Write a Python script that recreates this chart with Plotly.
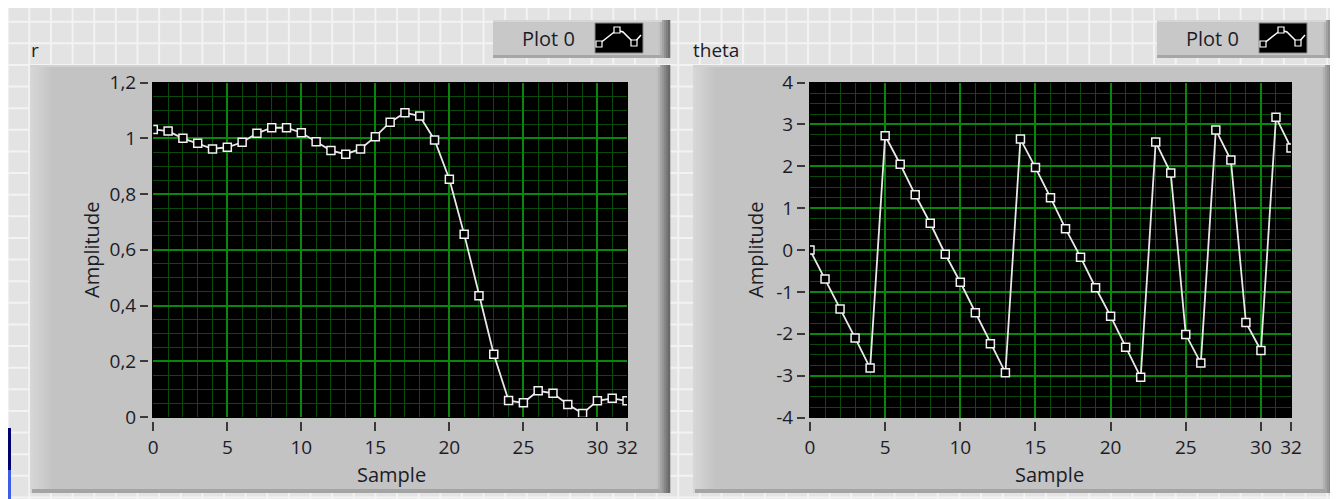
import plotly.graph_objects as go

W, H = 1338, 499
OFF = 8  # page body margin: the figure starts 8 px right / down of the window corner

# ---------------- data ----------------
sample = list(range(33))
r_values = [1.032, 1.026, 1.000, 0.982, 0.962, 0.968, 0.986, 1.018, 1.038, 1.038,
            1.020, 0.988, 0.956, 0.943, 0.962, 1.006, 1.058, 1.092, 1.080, 0.994,
            0.853, 0.656, 0.435, 0.225, 0.059, 0.051, 0.094, 0.085, 0.045, 0.013,
            0.058, 0.067, 0.058]
theta_values = [0.00, -0.69, -1.41, -2.10, -2.82, 2.73, 2.05, 1.32, 0.64, -0.10,
                -0.77, -1.50, -2.24, -2.93, 2.65, 1.97, 1.25, 0.51, -0.17, -0.90,
                -1.58, -2.32, -3.04, 2.58, 1.84, -2.02, -2.70, 2.87, 2.15, -1.73,
                -2.40, 3.17, 2.44]

x_tickvals = [0, 5, 10, 15, 20, 25, 30, 32]
x_ticktext = ["0", "5", "10", "15", "20", "25", "30", "32"]
r_tickvals = [0, 0.2, 0.4, 0.6, 0.8, 1.0, 1.2]
r_ticktext = ["0", "0,2", "0,4", "0,6", "0,8", "1", "1,2"]
theta_tickvals = [-4, -3, -2, -1, 0, 1, 2, 3, 4]
theta_ticktext = ["-4", "-3", "-2", "-1", "0", "1", "2", "3", "4"]

graph_titles = ["r", "theta"]
legend_name = "Plot 0"
x_title = "Sample"
y_title = "Amplitude"

# ---------------- helpers (window pixel -> paper fraction) ----------------
def X(px):
    return (px - OFF) / W

def Y(py):
    return 1 - (py - OFF) / H

shapes = []

def rect(x0, y0, x1, y1, fill, line_color=None, line_width=0, layer="below"):
    shapes.append(dict(type="rect", xref="paper", yref="paper",
                       x0=X(x0), x1=X(x1), y0=Y(y1), y1=Y(y0),
                       fillcolor=fill, layer=layer,
                       line=dict(color=line_color or fill, width=line_width)))

def hline(py, x0, x1, color, width):
    shapes.append(dict(type="line", xref="paper", yref="paper",
                       x0=X(x0), x1=X(x1), y0=Y(py), y1=Y(py),
                       line=dict(color=color, width=width), layer="below"))

def vline(px, y0, y1, color, width):
    shapes.append(dict(type="line", xref="paper", yref="paper",
                       x0=X(px), x1=X(px), y0=Y(y0), y1=Y(y1),
                       line=dict(color=color, width=width), layer="below"))

def mix(c1, c2, t):
    a = [int(c1[i:i + 2], 16) for i in (1, 3, 5)]
    b = [int(c2[i:i + 2], 16) for i in (1, 3, 5)]
    return "rgb(%d,%d,%d)" % tuple(round(a[k] + (b[k] - a[k]) * t) for k in range(3))

def hgrad(x0, x1, y0, y1, c1, c2, steps):
    w = (x1 - x0) / steps
    for i in range(steps):
        rect(x0 + i * w, y0, x0 + (i + 1) * w + 0.3, y1, mix(c1, c2, i / max(steps - 1, 1)))

# ---------------- background (LabVIEW front panel grid) ----------------
gx = 7.7
while gx < W + OFF:
    vline(gx, 0, H + OFF, "#f3f3f3", 2)
    gx += 21.63
gy = 21.63
while gy < H + OFF:
    hline(gy, 0, W + OFF, "#f3f3f3", 2)
    gy += 21.63
rect(8, 428, 11, 470, "#00006e")
rect(8, 470, 11, H + OFF, "#3c5ee6")

# ---------------- panels ----------------
def panel(px0, px1):
    rect(px0, 65, px1, 493, "#c3c3c3")
    hgrad(px0, px0 + 24, 65, 493, "#d6d6d6", "#c3c3c3", 8)
    hgrad(px1 - 14, px1, 65, 493, "#c0c0c0", "#6a6a6a", 7)
    rect(px0, 65, px1 - 10, 67, "#d2d2d2")
    rect(px0 + 2, 489, px1 - 8, 493, "#a4a4a4")

def legend_box(lx0, lx1):
    rect(lx0, 20, lx1, 58, "#c8c8c8")
    hgrad(lx1 - 12, lx1, 20, 58, "#c4c4c4", "#6e6e6e", 6)
    rect(lx0, 55, lx1 - 8, 58, "#a6a6a6")
    rect(lx0, 20, lx1 - 8, 22, "#d6d6d6")
    ix = lx0 + 102
    rect(ix, 23, ix + 48, 53, "#000000", "#8a8a8a", 1)
    pts = [(4, 21), (18, 10), (22, 7), (28, 9), (39, 20), (46, 12)]
    path = "M " + " L ".join("%f,%f" % (X(ix + a), Y(23 + b)) for a, b in pts)
    shapes.append(dict(type="path", xref="paper", yref="paper", path=path,
                       line=dict(color="#ffffff", width=1.5), layer="below"))
    for a, b in [(4, 21), (22, 7), (39, 20)]:
        rect(ix + a - 3, 23 + b - 3, ix + a + 3, 23 + b + 3, "#000000", "#ffffff", 1.2)

panel(30, 670)
panel(693, 1335)
legend_box(493, 670)
legend_box(1157, 1334)

# black plot areas
rect(152, 82, 628, 418, "#000000")
rect(809, 82, 1292, 418, "#000000")

# ---------------- axes ----------------
FONT = "Open Sans"
TXT = "#1c1c28"
MAJ = "#0a860a"
MIN = "#0a4a0a"

def xaxis_cfg(d0, d1):
    return dict(domain=[X(d0), X(d1)], range=[0, 32], anchor="free", position=Y(421),
                automargin=False,
                tickmode="array", tickvals=x_tickvals, ticktext=x_ticktext,
                ticks="outside", ticklen=9, tickwidth=2, tickcolor="#3a3a3a",
                showgrid=True, gridcolor=MAJ, gridwidth=2,
                minor=dict(tickmode="linear", tick0=0, dtick=1, showgrid=True,
                           gridcolor=MIN, gridwidth=1.2, ticks=""),
                zeroline=False, showline=False, fixedrange=True,
                tickfont=dict(family=FONT, size=19, color=TXT))

def yaxis_cfg(d0, d1, rng, tv, tt, mdt, pos_px):
    return dict(domain=[Y(d1), Y(d0)], range=rng, anchor="free", position=X(pos_px),
                automargin=False,
                tickmode="array", tickvals=tv, ticktext=tt,
                ticks="outside", ticklen=8, tickwidth=2, tickcolor="#3a3a3a",
                showgrid=True, gridcolor=MAJ, gridwidth=2,
                minor=dict(tickmode="linear", tick0=rng[0], dtick=mdt, showgrid=True,
                           gridcolor=MIN, gridwidth=1.2, ticks=""),
                zeroline=False, showline=False, fixedrange=True,
                tickfont=dict(family=FONT, size=19, color=TXT))

fig = go.Figure()
trace_style = dict(mode="lines+markers",
                   line=dict(color="#e8e8e8", width=1.8),
                   marker=dict(symbol="square", size=8, color="#000000",
                               line=dict(color="#f2f2f2", width=1.5)),
                   showlegend=False, hoverinfo="x+y")
fig.add_trace(go.Scatter(x=sample, y=r_values, xaxis="x", yaxis="y", name=legend_name, **trace_style))
fig.add_trace(go.Scatter(x=sample, y=theta_values, xaxis="x2", yaxis="y2", name=legend_name, **trace_style))

annotations = []
def text(s, px, py, size=20, angle=0, xanchor="center"):
    annotations.append(dict(text=s, xref="paper", yref="paper", x=X(px), y=Y(py),
                            showarrow=False, textangle=angle, xanchor=xanchor, yanchor="middle",
                            font=dict(family=FONT, size=size, color=TXT)))

text(graph_titles[0], 29, 50, 19, xanchor="left")
text(graph_titles[1], 691, 50, 19, xanchor="left")
text(legend_name, 548, 39, 20)
text(legend_name, 1212, 39, 20)
text(y_title, 91, 250, 20, angle=-90)
text(y_title, 755, 250, 20, angle=-90)
text(x_title, 391, 474, 20)
text(x_title, 1049, 474, 20)

fig.update_layout(
    template="none",
    width=W, height=H,
    autosize=False,
    margin=dict(l=0, r=0, t=0, b=0, pad=0, autoexpand=False),
    paper_bgcolor="#e3e3e3",
    plot_bgcolor="rgba(0,0,0,0)",
    xaxis=xaxis_cfg(153.3, 627),
    yaxis=yaxis_cfg(82.6, 417, [0, 1.2], r_tickvals, r_ticktext, 0.05, 148),
    xaxis2=xaxis_cfg(810, 1291),
    yaxis2=yaxis_cfg(82.6, 417.5, [-4, 4], theta_tickvals, theta_ticktext, 0.25, 805),
    shapes=shapes,
    annotations=annotations,
    showlegend=False,
)

fig.write_html("out.html")
